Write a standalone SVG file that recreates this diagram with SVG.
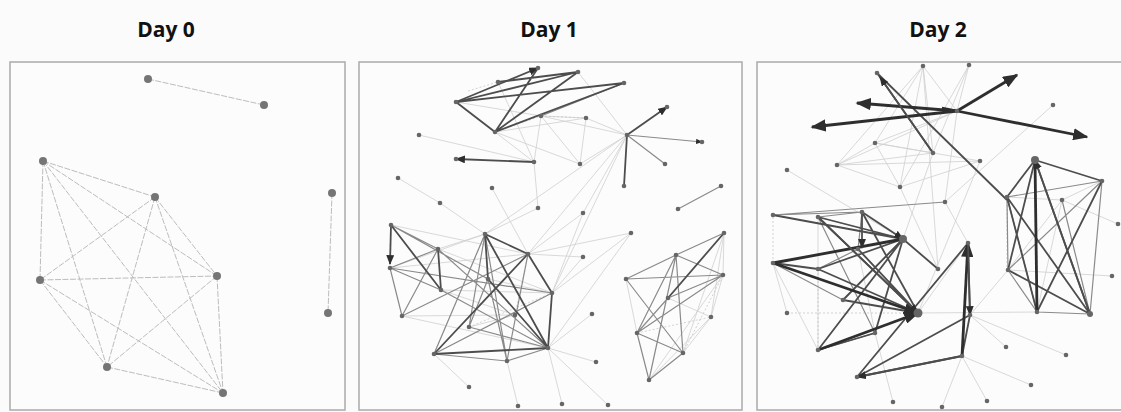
<svg xmlns="http://www.w3.org/2000/svg" width="1121" height="412" viewBox="0 0 1121 412">
<style>
.bg{fill:#fafbfa}
.panel{fill:#fbfcfb;stroke:#aeb0ae;stroke-width:1.6}
.title{font-family:"Open Sans","Liberation Sans",sans-serif;font-weight:bold;font-size:21px;fill:#111;text-anchor:middle}
.n0{fill:#757575}
.n{fill:#666}
.e0{stroke:#bdbdbd;stroke-width:1;stroke-dasharray:6 1.5;fill:none}
.l{stroke:#cfcfcf;stroke-width:.8;fill:none}
.ld{stroke:#c6c6c6;stroke-width:.8;stroke-dasharray:2 2;fill:none}
.m{stroke:#8a8a8a;stroke-width:1.2;fill:none}
.d{stroke:#4d4d4d;stroke-width:1.8;fill:none}
.t{stroke:#2e2e2e;stroke-width:2.8;fill:none}
</style>
<defs>
<marker id="ah" viewBox="0 0 10 8" refX="9" refY="4" markerWidth="5.5" markerHeight="4.4" orient="auto" markerUnits="strokeWidth"><path d="M0,0L10,4L0,8z" fill="#2e2e2e"/></marker>
</defs>
<rect class="bg" x="0" y="0" width="1121" height="412"/>
<g id="titles">
<text class="title" x="166" y="37">Day 0</text>
<text class="title" x="549" y="37">Day 1</text>
<text class="title" x="938" y="37">Day 2</text>
</g>
<g id="panels">
<rect class="panel" x="10" y="62" width="335" height="348"/>
<rect class="panel" x="359" y="62" width="383" height="348"/>
<rect class="panel" x="757" y="62" width="372" height="348"/>
</g>

<g id="connectors">
<g id="day0-edges">
<path class="e0" d="M148,79L264,105M332,193L328,313
M43,161L155,197M43,161L40,280M43,161L217,276M43,161L107,367M43,161L223,393
M155,197L40,280M155,197L217,276M155,197L107,367M155,197L223,393
M40,280L217,276M40,280L107,367M40,280L223,393
M217,276L107,367M217,276L223,393M107,367L223,393"/>
</g>
<g id="day1-edges">
<path class="l" d="M495,132L534,162M541,116L534,162M541,116L627,135M586,118L627,135M580,164L627,135M586,118L580,164M541,116L580,164M495,132L580,164M578,72L627,135M498,82L534,162M541,116L586,118M456,102L541,116M495,132L586,118M419,135L534,162M534,162L538,208M627,135L485,234M627,135L528,254M627,135L552,293M627,135L583,213
M398,178L440,203M440,203L485,234M492,188L528,254M538,208L485,234M583,213L528,254M631,233L528,254M583,257L528,254M583,213L552,293M631,233L552,293
M548,348L562,404M548,348L608,405M548,348L596,362M548,348L592,314M434,354L469,387M507,361L518,406M548,348L631,233M552,293L583,257
M391,225L528,254M390,268L528,254M438,249L552,293M441,290L515,315M402,316L548,348M390,268L485,234M438,249L485,234M488,279L552,293M515,315L469,327M441,290L552,293M402,316L515,315
M626,279L637,333M649,380L723,275M724,233L711,317M723,275L711,317M711,317L683,353M711,317L649,380M724,233L683,353M724,233L723,275M668,298L711,317"/>
<path class="ld" d="M468,91L498,82M495,132L541,116M541,116L586,118M434,354L485,234M469,327L552,293M528,254L515,315M637,333L711,317M683,353L723,275"/>
<path class="m" d="M541,116L624,83M627,135L665,164M678,209L721,186
M391,225L438,249M390,268L438,249M390,268L441,290M390,268L402,316M438,249L402,316M485,234L434,354M434,354L507,361M507,361L548,348M488,279L507,361M441,290L548,348M390,268L552,293M438,249L548,348M469,327L548,348M485,234L507,361M528,254L507,361M402,316L528,254M434,354L552,293M485,234L469,327M488,279L469,327M391,225L488,279
M626,279L676,255M676,255L724,233M626,279L723,275M676,255L723,275M626,279L683,353M676,255L637,333M676,255L649,380M676,255L683,353M668,298L723,275M637,333L723,275M637,333L683,353M683,353L649,380M668,298L637,333M637,333L649,380"/>
<path class="d" d="M456,102L578,72M456,102L624,83M456,102L495,132M495,132L538,68M495,132L578,72M495,132L624,83M498,82L578,72M627,135L624,186M724,233L668,298
M391,225L441,290M438,249L441,290M485,234L528,254M485,234L488,279M528,254L552,293M528,254L434,354M434,354L548,348M485,234L548,348M488,279L548,348M552,293L548,348"/>
<path class="d" d="M456,102L538,68" marker-end="url(#ah)"/>
<path class="d" d="M627,135L667,107" marker-end="url(#ah)"/>
<path class="d" d="M534,162L456,159" marker-end="url(#ah)"/>
<path class="d" d="M391,225L390,264" marker-end="url(#ah)"/>
<path class="m" d="M627,135L702,142" marker-end="url(#ah)"/>
</g>
<g id="day2-edges">
<path class="l" d="M923,66L875,143M923,66L933,153M923,66L837,165M923,66L900,187M923,66L957,111M969,65L900,187M969,65L957,111M969,65L933,153M1053,105L945,202M875,143L837,165M875,143L933,153M837,165L933,153M837,165L900,187M875,143L900,187M787,170L903,239M900,187L938,269M957,111L837,165M957,111L875,143M900,187L980,161M980,161L918,313M933,153L903,239M923,66L938,269M875,143L980,161M837,165L980,161M957,111L945,202
M773,215L903,239M818,217L903,239M773,263L818,350M773,263L787,313M818,217L818,350M862,212L918,313M858,249L875,333M843,300L918,313M945,202L968,243M918,313L968,243
M1118,224L1062,200M1112,276L1008,270M970,315L1008,270M970,315L1006,347M970,315L1066,355M962,356L1031,385M962,356L987,401M962,356L942,407M875,333L893,402M918,313L1037,312M1007,197L1062,200M1102,181L1062,200M1062,200L1037,312M1062,200L1008,270"/>
<path class="ld" d="M787,313L918,313M773,263L773,215M818,269L818,350M1007,197L1007,270"/>
<path class="m" d="M773,215L945,202M773,215L862,212M862,212L858,249M818,217L862,212M818,269L858,249M773,263L843,300M818,217L875,333M858,249L918,313M843,300L903,239M818,350L875,333
M1102,181L1090,314M1102,181L1008,270M1102,181L1007,197M1007,197L1008,270M1007,197L1037,312M1008,270L1037,312M1037,312L1090,314M1062,200L1090,314"/>
<path class="d" d="M877,73L933,153M877,73L1007,200
M773,215L903,239M818,217L903,239M818,217L918,313M862,212L918,313M903,239L938,269M903,239L818,350M903,239L875,333M818,269L903,239M773,263L818,269M843,300L903,239M858,249L918,313M818,350L875,333M875,333L903,239M818,269L918,313M843,300L918,313
M857,377L968,243M857,377L970,315M857,377L962,356M962,356L970,315M970,315L968,243
M1035,160L1102,181M1035,160L1007,197M1035,160L1008,270M1035,160L1090,314M1007,197L1090,314M1008,270L1090,314M1102,181L1037,312M1007,197L1037,312"/>
<path class="t" d="M773,263L903,239M957,111L942,108"/>
<path class="t" d="M957,111L857,103" marker-end="url(#ah)"/>
<path class="t" d="M957,111L812,127" marker-end="url(#ah)"/>
<path class="t" d="M957,111L1017,75" marker-end="url(#ah)"/>
<path class="t" d="M957,111L1087,137" marker-end="url(#ah)"/>
<path class="d" d="M933,153L880,77" marker-end="url(#ah)"/>
<path class="d" d="M862,212L862,248" marker-end="url(#ah)"/>
<path class="d" d="M862,212L903,239" marker-end="url(#ah)"/>
<path class="t" d="M773,263L918,313" marker-end="url(#ah)"/>
<path class="t" d="M818,350L918,313" marker-end="url(#ah)"/>
<path class="d" d="M818,217L918,313" marker-end="url(#ah)"/>
<path class="t" d="M962,356L968,243" marker-end="url(#ah)"/>
<path class="d" d="M968,243L970,315" marker-end="url(#ah)"/>
<path class="d" d="M962,356L857,377" marker-end="url(#ah)"/>
<path class="t" d="M1035,160L1037,312"/>
<path class="d" d="M1090,314L1035,160" marker-end="url(#ah)"/>
</g>
</g>

<g id="nodes">
<g id="day0-nodes">
<circle class="n0" cx="148" cy="79" r="4"/><circle class="n0" cx="264" cy="105" r="4"/>
<circle class="n0" cx="43" cy="161" r="4"/><circle class="n0" cx="155" cy="197" r="4"/>
<circle class="n0" cx="40" cy="280" r="4"/><circle class="n0" cx="217" cy="276" r="4"/>
<circle class="n0" cx="107" cy="367" r="4"/><circle class="n0" cx="223" cy="393" r="4"/>
<circle class="n0" cx="332" cy="193" r="4"/><circle class="n0" cx="328" cy="313" r="4"/>
</g>
<g id="day1-nodes">
<circle class="n" cx="538" cy="68" r="2.3"/><circle class="n" cx="578" cy="72" r="2.3"/><circle class="n" cx="498" cy="82" r="2.3"/><circle class="n" cx="456" cy="102" r="2.3"/><circle class="n" cx="495" cy="132" r="2.3"/><circle class="n" cx="541" cy="116" r="2.3"/><circle class="n" cx="624" cy="83" r="2.3"/><circle class="n" cx="586" cy="118" r="2.3"/><circle class="n" cx="580" cy="164" r="2.3"/><circle class="n" cx="534" cy="162" r="2.3"/><circle class="n" cx="456" cy="159" r="2.3"/><circle class="n" cx="419" cy="135" r="2.3"/>
<circle class="n" cx="627" cy="135" r="2.3"/><circle class="n" cx="667" cy="107" r="2.3"/><circle class="n" cx="702" cy="142" r="2.3"/><circle class="n" cx="665" cy="164" r="2.3"/><circle class="n" cx="624" cy="186" r="2.3"/>
<circle class="n" cx="398" cy="178" r="2.3"/><circle class="n" cx="440" cy="203" r="2.3"/><circle class="n" cx="492" cy="188" r="2.3"/><circle class="n" cx="538" cy="208" r="2.3"/><circle class="n" cx="583" cy="213" r="2.3"/><circle class="n" cx="631" cy="233" r="2.3"/><circle class="n" cx="583" cy="257" r="2.3"/><circle class="n" cx="678" cy="209" r="2.3"/><circle class="n" cx="721" cy="186" r="2.3"/>
<circle class="n" cx="391" cy="225" r="2.3"/><circle class="n" cx="390" cy="268" r="2.3"/><circle class="n" cx="438" cy="249" r="2.3"/><circle class="n" cx="441" cy="290" r="2.3"/><circle class="n" cx="402" cy="316" r="2.3"/><circle class="n" cx="485" cy="234" r="2.3"/><circle class="n" cx="488" cy="279" r="2.3"/><circle class="n" cx="528" cy="254" r="2.3"/><circle class="n" cx="552" cy="293" r="2.3"/><circle class="n" cx="515" cy="315" r="2.3"/><circle class="n" cx="469" cy="327" r="2.3"/><circle class="n" cx="434" cy="354" r="2.3"/><circle class="n" cx="507" cy="361" r="2.3"/><circle class="n" cx="548" cy="348" r="2.3"/>
<circle class="n" cx="469" cy="387" r="2.3"/><circle class="n" cx="518" cy="406" r="2.3"/><circle class="n" cx="562" cy="404" r="2.3"/><circle class="n" cx="608" cy="405" r="2.3"/><circle class="n" cx="596" cy="362" r="2.3"/><circle class="n" cx="592" cy="314" r="2.3"/>
<circle class="n" cx="724" cy="233" r="2.3"/><circle class="n" cx="676" cy="255" r="2.3"/><circle class="n" cx="626" cy="279" r="2.3"/><circle class="n" cx="723" cy="275" r="2.3"/><circle class="n" cx="668" cy="298" r="2.3"/><circle class="n" cx="711" cy="317" r="2.3"/><circle class="n" cx="637" cy="333" r="2.3"/><circle class="n" cx="683" cy="353" r="2.3"/><circle class="n" cx="649" cy="380" r="2.3"/>
</g>
<g id="day2-nodes">
<circle class="n" cx="923" cy="66" r="2.3"/><circle class="n" cx="969" cy="65" r="2.3"/><circle class="n" cx="877" cy="73" r="2.3"/><circle class="n" cx="957" cy="111" r="2.3"/><circle class="n" cx="1053" cy="105" r="2.3"/><circle class="n" cx="875" cy="143" r="2.3"/><circle class="n" cx="837" cy="165" r="2.3"/><circle class="n" cx="787" cy="170" r="2.3"/><circle class="n" cx="900" cy="187" r="2.3"/><circle class="n" cx="980" cy="161" r="2.3"/><circle class="n" cx="933" cy="153" r="2.3"/><circle class="n" cx="945" cy="202" r="2.3"/>
<circle class="n" cx="1035" cy="160" r="4"/><circle class="n" cx="1102" cy="181" r="2.3"/><circle class="n" cx="1007" cy="197" r="2.3"/><circle class="n" cx="1008" cy="270" r="2.3"/><circle class="n" cx="1037" cy="312" r="2.3"/><circle class="n" cx="1090" cy="314" r="3"/><circle class="n" cx="1062" cy="200" r="2.3"/><circle class="n" cx="1118" cy="224" r="2.3"/><circle class="n" cx="1112" cy="276" r="2.3"/>
<circle class="n" cx="773" cy="215" r="2.3"/><circle class="n" cx="818" cy="217" r="2.3"/><circle class="n" cx="862" cy="212" r="2.3"/><circle class="n" cx="903" cy="239" r="4"/><circle class="n" cx="858" cy="249" r="2.3"/><circle class="n" cx="938" cy="269" r="2.3"/><circle class="n" cx="773" cy="263" r="2.3"/><circle class="n" cx="818" cy="269" r="2.3"/><circle class="n" cx="843" cy="300" r="2.3"/><circle class="n" cx="787" cy="313" r="2.3"/><circle class="n" cx="918" cy="313" r="4.5"/><circle class="n" cx="875" cy="333" r="2.3"/><circle class="n" cx="818" cy="350" r="2.3"/>
<circle class="n" cx="968" cy="243" r="2.3"/><circle class="n" cx="970" cy="315" r="2.3"/><circle class="n" cx="962" cy="356" r="2.3"/><circle class="n" cx="857" cy="377" r="2.3"/>
<circle class="n" cx="893" cy="402" r="2.3"/><circle class="n" cx="942" cy="407" r="2.3"/><circle class="n" cx="987" cy="401" r="2.3"/><circle class="n" cx="1031" cy="385" r="2.3"/><circle class="n" cx="1006" cy="347" r="2.3"/><circle class="n" cx="1066" cy="355" r="2.3"/>
</g>
</g>
</svg>
